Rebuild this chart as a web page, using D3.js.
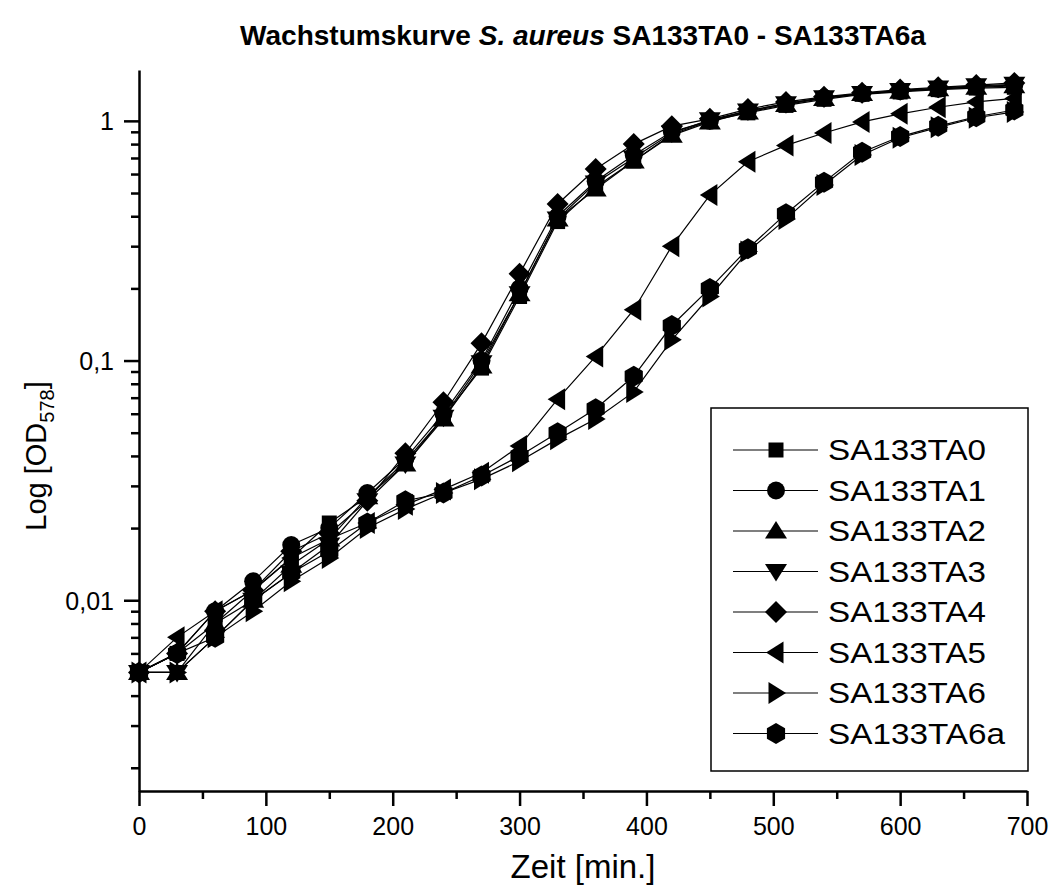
<!DOCTYPE html>
<html>
<head>
<meta charset="utf-8">
<script src="https://cdnjs.cloudflare.com/ajax/libs/d3/7.8.5/d3.min.js"></script>
<style>
    body { margin: 0; background: #fff; }
    svg text { font-family: Arial, "Liberation Sans", sans-serif; fill: #000; }
</style>
</head>
<body>
<div id="growth_chart"></div>
<script>
// Messzeitpunkte in Minuten
var times = [0, 30, 60, 90, 120, 150, 180, 210, 240, 270, 300, 330,
             360, 390, 420, 450, 480, 510, 540, 570, 600, 630, 660, 690];

var strainNames = ["SA133TA0", "SA133TA1", "SA133TA2", "SA133TA3",
                   "SA133TA4", "SA133TA5", "SA133TA6", "SA133TA6a"];
var strainSymbols = ["square", "circle", "up", "down", "diamond", "left", "right", "hexagon"];

// OD578 readings per strain
var odTA0 = [0.005, 0.006, 0.008, 0.011, 0.015, 0.021, 0.027, 0.038, 0.058, 0.093, 0.185, 0.38,
             0.53, 0.68, 0.88, 1.00, 1.08, 1.16, 1.23, 1.29, 1.32, 1.35, 1.37, 1.38];
var odTA1 = [0.005, 0.006, 0.009, 0.012, 0.017, 0.020, 0.028, 0.039, 0.060, 0.100, 0.20, 0.40,
             0.56, 0.72, 0.90, 1.00, 1.10, 1.18, 1.25, 1.30, 1.33, 1.36, 1.39, 1.41];
var odTA2 = [0.005, 0.005, 0.008, 0.010, 0.014, 0.018, 0.027, 0.037, 0.057, 0.095, 0.19, 0.39,
             0.52, 0.68, 0.87, 0.99, 1.09, 1.17, 1.24, 1.30, 1.33, 1.36, 1.38, 1.40];
var odTA3 = [0.005, 0.005, 0.007, 0.010, 0.013, 0.017, 0.026, 0.037, 0.058, 0.098, 0.19, 0.39,
             0.55, 0.70, 0.89, 1.01, 1.10, 1.18, 1.25, 1.30, 1.34, 1.37, 1.40, 1.42];
var odTA4 = [0.005, 0.006, 0.009, 0.011, 0.016, 0.019, 0.026, 0.041, 0.067, 0.118, 0.23, 0.45,
             0.63, 0.80, 0.95, 1.02, 1.12, 1.20, 1.26, 1.31, 1.35, 1.38, 1.41, 1.44];
var odTA5 = [0.005, 0.007, 0.009, 0.011, 0.015, 0.018, 0.021, 0.025, 0.029, 0.034, 0.044, 0.069,
             0.104, 0.163, 0.30, 0.49, 0.675, 0.79, 0.89, 0.99, 1.07, 1.14, 1.20, 1.24];
var odTA6 = [0.005, 0.005, 0.007, 0.009, 0.012, 0.015, 0.020, 0.024, 0.028, 0.032, 0.038, 0.047,
             0.057, 0.074, 0.122, 0.185, 0.285, 0.39, 0.54, 0.72, 0.85, 0.94, 1.03, 1.09];
var odTA6a = [0.005, 0.006, 0.007, 0.010, 0.013, 0.016, 0.021, 0.026, 0.028, 0.033, 0.040, 0.050,
              0.063, 0.086, 0.140, 0.200, 0.293, 0.41, 0.555, 0.74, 0.86, 0.95, 1.04, 1.11];

var xTicks = [0, 100, 200, 300, 400, 500, 600, 700];
var xMinorTicks = [50, 150, 250, 350, 450, 550, 650];
var yTicks = [0.01, 0.1, 1];
var yTickLabels = ["0,01", "0,1", "1"];
var yMinorTicks = [0.002, 0.003, 0.004, 0.005, 0.006, 0.007, 0.008, 0.009,
                   0.02, 0.03, 0.04, 0.05, 0.06, 0.07, 0.08, 0.09,
                   0.2, 0.3, 0.4, 0.5, 0.6, 0.7, 0.8, 0.9];

var seriesValues = [odTA0, odTA1, odTA2, odTA3, odTA4, odTA5, odTA6, odTA6a];

var width = 1050, height = 893;
var svg = d3.select("#growth_chart").append("svg")
    .attr("width", width)
    .attr("height", height);

var x = d3.scaleLinear().domain([0, 700]).range([139, 1027]);
var y = d3.scaleLog().domain([0.0016, 1.63]).range([791, 70]);

// marker outlines, roughly the Origin sizes
function markerPath(kind) {
    var p = d3.path();
    function poly(pts) {
        p.moveTo(pts[0][0], pts[0][1]);
        for (var k = 1; k < pts.length; k++) p.lineTo(pts[k][0], pts[k][1]);
        p.closePath();
    }
    switch (kind) {
        case "square": poly([[-7.5, -7.5], [7.5, -7.5], [7.5, 7.5], [-7.5, 7.5]]); break;
        case "circle": p.arc(0, 0, 9, 0, 2 * Math.PI); break;
        case "up": poly([[0, -10], [11, 7.5], [-11, 7.5]]); break;
        case "down": poly([[0, 10], [11, -7.5], [-11, -7.5]]); break;
        case "left": poly([[-10, 0], [7.5, -11], [7.5, 11]]); break;
        case "right": poly([[10, 0], [-7.5, -11], [-7.5, 11]]); break;
        case "diamond": poly([[0, -11], [11, 0], [0, 11], [-11, 0]]); break;
        case "hexagon":
            var pts = [];
            for (var a = 0; a < 6; a++) {
                var ang = Math.PI / 2 + a * Math.PI / 3;
                pts.push([10.5 * Math.cos(ang), -10.5 * Math.sin(ang)]);
            }
            poly(pts);
            break;
    }
    return p.toString();
}

// axes
var xAxis = svg.append("g").attr("transform", "translate(0,791)")
    .call(d3.axisBottom(x).tickValues(xTicks).tickSize(15).tickSizeOuter(0).tickPadding(11));
svg.append("g").attr("transform", "translate(0,791)")
    .call(d3.axisBottom(x).tickValues(xMinorTicks).tickSize(8).tickFormat(""))
    .select(".domain").remove();

var yAxis = svg.append("g").attr("transform", "translate(139,0)")
    .call(d3.axisLeft(y).tickValues(yTicks).tickSize(15).tickSizeOuter(0).tickPadding(10)
        .tickFormat(function(d, i) { return yTickLabels[i]; }));
svg.append("g").attr("transform", "translate(139,0)")
    .call(d3.axisLeft(y).tickValues(yMinorTicks).tickSize(8).tickFormat(""))
    .select(".domain").remove();

svg.selectAll(".domain").attr("stroke-width", 2.5).attr("stroke", "#000");
svg.selectAll(".tick line").attr("stroke-width", 2.5).attr("stroke", "#000");
svg.selectAll(".tick text").attr("font-size", 25).attr("font-family", "Arial, 'Liberation Sans', sans-serif");
yAxis.selectAll(".tick text").attr("dy", "0.36em");

// lines and markers
var line = d3.line()
    .x(function(d, i) { return x(times[i]); })
    .y(function(d) { return y(d); });

svg.append("g").selectAll("path")
    .data(seriesValues)
    .join("path")
    .attr("d", line)
    .attr("fill", "none")
    .attr("stroke", "#000")
    .attr("stroke-width", 1.2);

seriesValues.forEach(function(vals, s) {
    svg.append("g").selectAll("path")
        .data(vals)
        .join("path")
        .attr("d", markerPath(strainSymbols[s]))
        .attr("transform", function(d, i) { return "translate(" + x(times[i]) + "," + y(d) + ")"; })
        .attr("fill", "#000");
});

// legend
var legend = svg.append("g");
legend.append("rect")
    .attr("x", 711).attr("y", 408)
    .attr("width", 317).attr("height", 363)
    .attr("fill", "#fff").attr("stroke", "#000").attr("stroke-width", 1.5);

var rows = legend.selectAll("g.row")
    .data(strainNames)
    .join("g")
    .attr("class", "row")
    .attr("transform", function(d, i) { return "translate(0," + (450 + i * 40.5) + ")"; });
rows.append("line")
    .attr("x1", 733).attr("x2", 818)
    .attr("stroke", "#000").attr("stroke-width", 1.2);
rows.append("path")
    .attr("d", function(d, i) { return markerPath(strainSymbols[i]); })
    .attr("transform", "translate(776,0)")
    .attr("fill", "#000");
rows.append("text")
    .attr("x", 828).attr("dy", "0.36em")
    .attr("font-size", 29)
    .attr("textLength", function(d) { return d.length === 9 ? 177 : 158; })
    .attr("lengthAdjust", "spacingAndGlyphs")
    .text(function(d) { return d; });

// title and axis titles
var title = svg.append("text")
    .attr("x", 583).attr("y", 45)
    .attr("text-anchor", "middle")
    .attr("font-size", 28).attr("font-weight", "bold");
title.append("tspan").text("Wachstumskurve ");
title.append("tspan").attr("font-style", "italic").text("S. aureus");
title.append("tspan").text(" SA133TA0 - SA133TA6a");

svg.append("text")
    .attr("x", 583).attr("y", 878)
    .attr("text-anchor", "middle")
    .attr("font-size", 33)
    .text("Zeit [min.]");

var yLabel = svg.append("text")
    .attr("transform", "translate(46,456) rotate(-90)")
    .attr("text-anchor", "middle")
    .attr("font-size", 29);
yLabel.append("tspan").text("Log [OD");
yLabel.append("tspan").attr("font-size", 20).attr("dy", 8).text("578");
yLabel.append("tspan").attr("dy", -8).text("]");
</script>
</body>
</html>
